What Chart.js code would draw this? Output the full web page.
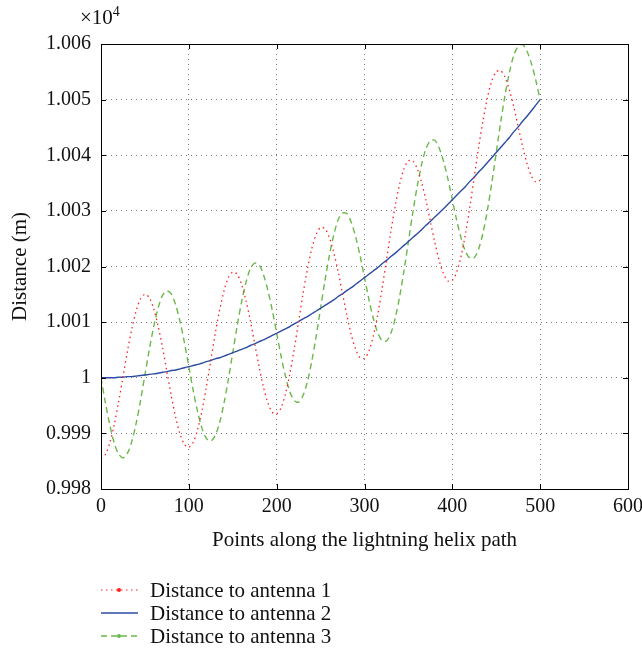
<!DOCTYPE html>
<html>
<head>
<meta charset="utf-8">
<script src="https://cdn.jsdelivr.net/npm/chart.js"></script>
<style>
  html, body { margin: 0; padding: 0; background: #fff; }
  #wrap { position: relative; width: 642px; height: 654px; font-family: "Liberation Serif", serif; color: #111; }
  #wrap canvas { position: absolute; left: 0; top: 0; }
  #exp { position: absolute; left: 80px; top: 4px; font-size: 21px; }
  #exp sup { font-size: 14px; }
  .leg { position: absolute; left: 100px; height: 22px; display: flex; align-items: center; font-size: 21px; }
  .leg svg { margin-right: 12px; }
</style>
</head>
<body>
<div id="wrap">
  <canvas id="myChart" width="642" height="654"></canvas>
  <div id="exp">&times;10<sup>4</sup></div>
  <div class="leg" style="top:579px">
    <svg width="38" height="10"><line x1="1" y1="5" x2="38" y2="5" stroke="#ff2020" stroke-width="1.2" stroke-dasharray="1.5 3.5"/><circle cx="19" cy="5" r="2" fill="#ff2020"/></svg>
    <span>Distance to antenna 1</span>
  </div>
  <div class="leg" style="top:602px">
    <svg width="38" height="10"><line x1="1" y1="5" x2="38" y2="5" stroke="#2c4ca3" stroke-width="1.3"/></svg>
    <span>Distance to antenna 2</span>
  </div>
  <div class="leg" style="top:625px">
    <svg width="38" height="10"><line x1="1" y1="5" x2="38" y2="5" stroke="#6bb84a" stroke-width="1.3" stroke-dasharray="6 4"/><circle cx="19" cy="5" r="2" fill="#6bb84a"/></svg>
    <span>Distance to antenna 3</span>
  </div>
</div>
<script>
// points along the helix path (x), distances in units of 10^4 m
var points = [0, 5, 10, 15, 20, 25, 30, 35, 40, 45, 50, 55, 60, 65, 70, 75, 80, 85, 90, 95,
    100, 105, 110, 115, 120, 125, 130, 135, 140, 145, 150, 155, 160, 165, 170, 175, 180, 185, 190, 195,
    200, 205, 210, 215, 220, 225, 230, 235, 240, 245, 250, 255, 260, 265, 270, 275, 280, 285, 290, 295,
    300, 305, 310, 315, 320, 325, 330, 335, 340, 345, 350, 355, 360, 365, 370, 375, 380, 385, 390, 395,
    400, 405, 410, 415, 420, 425, 430, 435, 440, 445, 450, 455, 460, 465, 470, 475, 480, 485, 490, 495, 500];

var antenna1 = [0.99855, 0.99862, 0.99883, 0.99915, 0.99956, 1.00001, 1.00047, 1.00087, 1.0012, 1.00142,
    1.0015, 1.00144, 1.00124, 1.00093, 1.00055, 1.00011, 0.99968, 0.99929, 0.99899, 0.9988,
    0.99875, 0.99884, 0.99907, 0.99941, 0.99984, 1.00031, 1.00079, 1.00121, 1.00156, 1.0018,
    1.0019, 1.00186, 1.00168, 1.00139, 1.00103, 1.00061, 1.0002, 0.99983, 0.99955, 0.99938,
    0.99935, 0.99946, 0.99971, 1.00007, 1.00052, 1.00101, 1.00151, 1.00195, 1.00232, 1.00258,
    1.0027, 1.00268, 1.00252, 1.00225, 1.00191, 1.00151, 1.00112, 1.00077, 1.00051, 1.00036,
    1.00035, 1.00048, 1.00075, 1.00113, 1.0016, 1.00211, 1.00263, 1.00309, 1.00348, 1.00376,
    1.0039, 1.0039, 1.00376, 1.00351, 1.00319, 1.00281, 1.00244, 1.00211, 1.00187, 1.00174,
    1.00175, 1.0019, 1.00219, 1.00259, 1.00308, 1.00361, 1.00415, 1.00463, 1.00504, 1.00534,
    1.0055, 1.00552, 1.0054, 1.00517, 1.00487, 1.00451, 1.00416, 1.00385, 1.00363, 1.00352, 1.00355];

var antenna2 = [1, 1, 1, 1, 1.00001, 1.00001, 1.00002, 1.00002, 1.00003, 1.00004,
    1.00005, 1.00006, 1.00007, 1.00008, 1.0001, 1.00011, 1.00013, 1.00014, 1.00016, 1.00018,
    1.0002, 1.00022, 1.00024, 1.00026, 1.00029, 1.00031, 1.00034, 1.00036, 1.00039, 1.00042,
    1.00045, 1.00048, 1.00051, 1.00054, 1.00058, 1.00061, 1.00065, 1.00068, 1.00072, 1.00076,
    1.0008, 1.00084, 1.00088, 1.00092, 1.00097, 1.00101, 1.00106, 1.0011, 1.00115, 1.0012,
    1.00125, 1.0013, 1.00135, 1.0014, 1.00146, 1.00151, 1.00157, 1.00162, 1.00168, 1.00174,
    1.0018, 1.00186, 1.00192, 1.00198, 1.00205, 1.00211, 1.00218, 1.00224, 1.00231, 1.00238,
    1.00245, 1.00252, 1.00259, 1.00266, 1.00274, 1.00281, 1.00289, 1.00296, 1.00304, 1.00312,
    1.0032, 1.00328, 1.00336, 1.00344, 1.00353, 1.00361, 1.0037, 1.00378, 1.00387, 1.00396,
    1.00405, 1.00414, 1.00423, 1.00432, 1.00442, 1.00451, 1.00461, 1.0047, 1.0048, 1.0049, 1.005];

var antenna3 = [1, 0.99955, 0.99915, 0.99883, 0.99863, 0.99856, 0.99864, 0.99885, 0.99918, 0.99959,
    1.00005, 1.00051, 1.00092, 1.00125, 1.00148, 1.00156, 1.00151, 1.00131, 1.00101, 1.00063,
    1.0002, 0.99977, 0.99939, 0.99909, 0.99891, 0.99886, 0.99896, 0.99919, 0.99954, 0.99997,
    1.00045, 1.00093, 1.00136, 1.00171, 1.00196, 1.00206, 1.00203, 1.00185, 1.00157, 1.00121,
    1.0008, 1.00039, 1.00003, 0.99975, 0.99959, 0.99956, 0.99968, 0.99993, 1.0003, 1.00075,
    1.00125, 1.00175, 1.0022, 1.00257, 1.00284, 1.00296, 1.00295, 1.00279, 1.00253, 1.00219,
    1.0018, 1.00141, 1.00107, 1.00081, 1.00067, 1.00066, 1.0008, 1.00107, 1.00146, 1.00193,
    1.00245, 1.00297, 1.00344, 1.00383, 1.00412, 1.00426, 1.00427, 1.00413, 1.00389, 1.00357,
    1.0032, 1.00283, 1.00251, 1.00227, 1.00215, 1.00216, 1.00232, 1.00261, 1.00302, 1.00351,
    1.00405, 1.00459, 1.00508, 1.00549, 1.0058, 1.00596, 1.00599, 1.00587, 1.00565, 1.00535, 1.005];

var xTickValues = [0, 100, 200, 300, 400, 500, 600];
var xTickLabels = ["0", "100", "200", "300", "400", "500", "600"];
var yTickValues = [0.998, 0.999, 1, 1.001, 1.002, 1.003, 1.004, 1.005, 1.006];
var yTickLabels = ["0.998", "0.999", "1", "1.001", "1.002", "1.003", "1.004", "1.005", "1.006"];

function toXY(values) {
    return values.map(function (v, i) { return { x: points[i], y: v }; });
}

// box around the plot with small inward ticks on all four sides
var framePlugin = {
    id: "frame",
    afterDraw: function (chart) {
        var ctx = chart.ctx;
        var a = chart.chartArea;
        var xs = chart.scales.x, ys = chart.scales.y;
        var len = 5;
        ctx.save();
        ctx.strokeStyle = "#000";
        ctx.lineWidth = 1;
        ctx.strokeRect(Math.round(a.left) + 0.5, Math.round(a.top) + 0.5,
            Math.round(a.right - a.left), Math.round(a.bottom - a.top));
        ctx.beginPath();
        xTickValues.forEach(function (v) {
            var px = Math.round(xs.getPixelForValue(v)) + 0.5;
            ctx.moveTo(px, a.bottom); ctx.lineTo(px, a.bottom - len);
            ctx.moveTo(px, a.top); ctx.lineTo(px, a.top + len);
        });
        yTickValues.forEach(function (v) {
            var py = Math.round(ys.getPixelForValue(v)) + 0.5;
            ctx.moveTo(a.left, py); ctx.lineTo(a.left + len, py);
            ctx.moveTo(a.right, py); ctx.lineTo(a.right - len, py);
        });
        ctx.stroke();
        ctx.restore();
    }
};

var ctx = document.getElementById("myChart").getContext("2d");
var chart = new Chart(ctx, {
    type: "line",
    data: {
        datasets: [
            {
                label: "Distance to antenna 1",
                data: toXY(antenna1),
                borderColor: "#ff2020",
                borderWidth: 1.3,
                borderDash: [1.5, 3.5],
                pointRadius: 0,
                tension: 0.3,
            },
            {
                label: "Distance to antenna 2",
                data: toXY(antenna2),
                borderColor: "#2c4ca3",
                borderWidth: 1.4,
                pointRadius: 0,
                tension: 0.3,
            },
            {
                label: "Distance to antenna 3",
                data: toXY(antenna3),
                borderColor: "#6bb84a",
                borderWidth: 1.4,
                borderDash: [6, 4],
                pointRadius: 0,
                tension: 0.3,
            },
        ],
    },
    options: {
        responsive: false,
        animation: false,
        layout: {
            padding: { left: 0, top: 44, right: 14, bottom: 97 },
        },
        plugins: {
            legend: { display: false },
            tooltip: { enabled: false },
        },
        scales: {
            x: {
                type: "linear",
                min: 0,
                max: 600,
                afterBuildTicks: function (scale) {
                    scale.ticks = xTickValues.map(function (v) { return { value: v }; });
                },
                afterFit: function (scale) {
                    scale.height = 68;
                    scale.paddingLeft = 0;
                    scale.paddingRight = 0;
                },
                ticks: {
                    padding: 6,
                    color: "#111",
                    font: { family: "Liberation Serif", size: 20 },
                    maxRotation: 0,
                    callback: function (value, index) { return xTickLabels[index]; },
                },
                grid: { color: "#777", drawTicks: false },
                border: { display: false, dash: [1, 4] },
                title: {
                    display: true,
                    text: "Points along the lightning helix path",
                    color: "#111",
                    font: { family: "Liberation Serif", size: 21 },
                    padding: { top: 4, bottom: 4 },
                },
            },
            y: {
                type: "linear",
                min: 0.998,
                max: 1.006,
                afterBuildTicks: function (scale) {
                    scale.ticks = yTickValues.map(function (v) { return { value: v }; });
                },
                afterFit: function (scale) { scale.width = 101; },
                ticks: {
                    padding: 10,
                    color: "#111",
                    font: { family: "Liberation Serif", size: 20 },
                    callback: function (value, index) { return yTickLabels[index]; },
                },
                grid: { color: "#777", drawTicks: false },
                border: { display: false, dash: [1, 4] },
                title: {
                    display: true,
                    text: "Distance (m)",
                    color: "#111",
                    font: { family: "Liberation Serif", size: 21 },
                    padding: { top: 8, bottom: 0 },
                },
            },
        },
    },
    plugins: [framePlugin],
});
</script>
</body>
</html>
